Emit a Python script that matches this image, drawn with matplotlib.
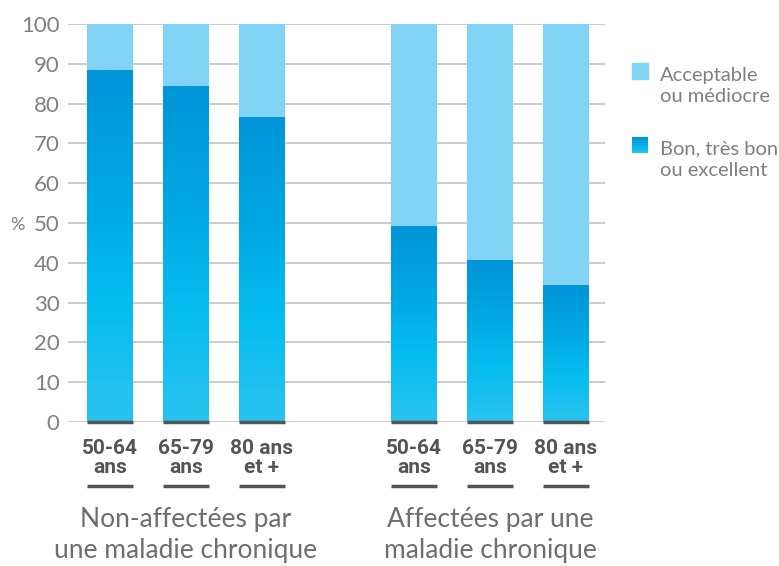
import matplotlib.pyplot as plt
import numpy as np
from matplotlib.colors import LinearSegmentedColormap
from matplotlib.patches import Rectangle

ages = ["50-64\nans", "65-79\nans", "80 ans\net +"]
groups = ["Non-affectées par\nune maladie chronique", "Affectées par une\nmaladie chronique"]
bon = [88.4, 84.4, 76.6, 49.2, 40.7, 34.4]
acceptable = [100 - v for v in bon]
positions = [0, 1, 2, 4, 5, 6]

light = "#82d4f7"
grad = LinearSegmentedColormap.from_list("g", ["#2ac3ef", "#06bdf0", "#00a6e2", "#0095d8"])
txt = "#808080"
font = "Lato"

fig = plt.figure(figsize=(7.79, 5.66), dpi=100)
ax = fig.add_axes([68/779, 1-422/566, (605-68)/779, 398/566])

w = 0.605
bars = ax.bar(positions, bon, width=w, color="none", zorder=3)
ax.bar(positions, acceptable, bottom=bon, width=w, color=light, zorder=3)
g = np.linspace(0, 1, 256).reshape(-1, 1)
for b in bars:
    x0, y0 = b.get_x(), b.get_y()
    ax.imshow(g, cmap=grad, origin="lower", aspect="auto", zorder=3,
              extent=[x0, x0 + b.get_width(), y0, y0 + b.get_height()])
    ax.plot([x0, x0 + b.get_width()], [0, 0], color="#555555", lw=2.5,
            solid_capstyle="butt", zorder=4, clip_on=False)
ax.set_xlim(-0.553, 6.513)
ax.set_ylim(0, 100)

ax.set_yticks(range(0, 101, 10))
ax.grid(axis="y", color="#c8c8c8", lw=1.3, zorder=0)
for s in ax.spines.values():
    s.set_visible(False)
ax.tick_params(axis="y", length=0, pad=6, labelsize=16, labelcolor=txt)
ax.set_xticks([])
for t in ax.get_yticklabels():
    t.set_fontfamily(font)
fig.text(17/779, 1-225/566, "%", fontsize=13, color=txt, ha="center",
         va="center", family=font)

# bar labels with underline
trans = ax.get_xaxis_transform()
for i, p in enumerate(positions):
    ax.text(p, -0.09, ages[i % 3], transform=trans, ha="center", va="center",
            fontsize=15, color="#555555", family="Roboto",
            weight="bold", linespacing=1.0)
    ax.plot([p - w/2, p + w/2], [-0.16, -0.16], transform=trans, color="#555555",
            lw=2.5, solid_capstyle="butt", clip_on=False)

for j, c in enumerate([1, 5]):
    ax.text(c, -0.285, groups[j], transform=trans, ha="center", va="center",
            fontsize=19, color="#6e6e6e", family=font, linespacing=1.3)

# legend
fig.add_artist(Rectangle((632/779, 1-79/566), 16/779, 16/566, color=light,
                         transform=fig.transFigure))
lax = fig.add_axes([632/779, 1-153/566, 16/779, 16/566])
lax.imshow(g, cmap=grad, origin="lower", aspect="auto")
lax.axis("off")
fig.text(660/779, 1-86/566, "Acceptable\nou médiocre", fontsize=14.5, color=txt,
         va="center", family=font, linespacing=1.35)
fig.text(660/779, 1-160/566, "Bon, très bon\nou excellent", fontsize=14.5, color=txt,
         va="center", family=font, linespacing=1.35)

fig.savefig("out.png", dpi=100)
